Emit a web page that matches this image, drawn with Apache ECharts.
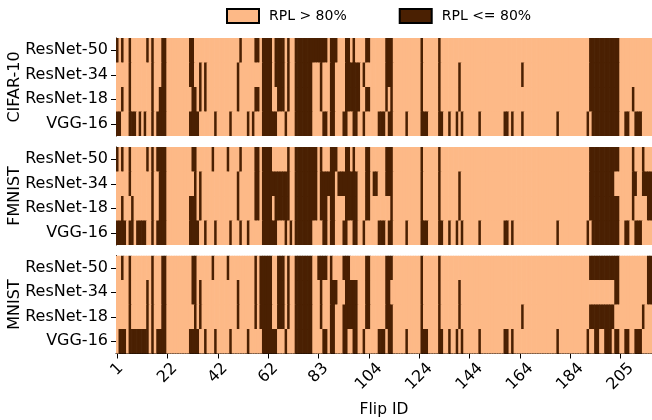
<!DOCTYPE html>
<html>
<head>
<meta charset="utf-8">
<script src="https://cdn.jsdelivr.net/npm/echarts@6/dist/echarts.min.js"></script>
<style>
html,body{margin:0;padding:0;background:#fff;}
#c{width:652px;height:420px;}
</style>
</head>
<body>
<div id="c"></div>
<script>
// ---- data ----
const N_FLIPS = 213;
const flipTickLabels = ['1','22','42','62','83','104','124','144','164','184','205'];
const flipTickStep = 20;
const models = ['ResNet-50','ResNet-34','ResNet-18','VGG-16'];
const datasets = ['CIFAR-10','FMNIST','MNIST'];
const legendNames = ['RPL > 80%','RPL <= 80%'];
// dark cells (RPL <= 80%) as column runs (0-based flip index), rows in model order
const cifar10Dark = [
  '0 2 5 12 14 18-19 29-30 49 55-56 58-61 63-66 68 71-83 85-87 91-92 94 99-100 107-109 121 128 188-199',
  '5 14 18-19 29-30 33 35 48 58-61 63-66 68 71-77 81 85-86 91-96 98 107-109 121 128 136 161 188-199',
  '2 5 14 17-19 30-31 33 35 48 55-56 58-61 64-66 68 71-77 81 85-86 91-96 99-100 107 109 121 128 136 188-199 205',
  '0-1 5-7 9 11 14 16-19 29-32 39 45 52 54 58-63 67 71-77 82-83 85-86 90-91 94-95 98 104-106 108-109 115 121-123 128-129 132 135 137 144 154-155 157 161 175 187 189-199 202-203 206-208'
];
const fmnistDark = [
  '0 2 5 12 14 16-19 30-31 38 44 49 55-56 58-61 68 71-79 81 85-87 91-92 94 99-100 107-109 121 128 188-199 205 209',
  '5 14 17-19 31 33 48 55-56 58-68 71-79 81-86 88-95 99-100 102-103 107-109 121 128 136 188-197 205-206 209-212',
  '2 6 14 17-19 29-31 33 48 55-56 58-61 63-68 71-79 81-83 85-86 91-95 99-100 109 121 128 136 188-199 205 211-212',
  '0-3 5-6 8-11 14 16-19 29-32 35 39 45 49 52 58-63 67 69 71-77 82-83 85-86 90-91 94-95 98 104-106 108-109 115 121-123 128-129 132 135 137 144 154-155 157 175 187 189-199 202-203 206-208'
];
const mnistDark = [
  '2 5 14 18-19 30-31 38 44 55 57-61 64-66 68 71-77 80-83 85 90-92 99-100 107-109 121 128 188-199 211-212',
  '5 12 14 18-19 30-31 33 48 55 57-61 64-66 68 71-77 81 85-87 91-95 99-100 107-108 121 128 136 198-199 211-212',
  '5 12 14 18-19 31 33 48 55 57-61 64-66 68 71-77 81 85-86 90-95 99-100 107-109 121 128 136 161 188-197 209',
  '1-3 5-12 14 16-19 29-32 35 39 45 52 58-63 67 71-77 82-83 85-86 90-91 94-95 98 104-106 108-109 115 121-123 128-129 132 135 137 144 154-155 157 175 187 190-191 194-196 198-199 202-203 206-208'
];
const allDark = [cifar10Dark, fmnistDark, mnistDark];

// ---- style ----
const LIGHT = '#FDB987';
const DARK = '#4A2002';
const FONT = 'DejaVu Sans';

function parseRuns(s){
  const set = new Set();
  s.trim().split(/\s+/).forEach(tok=>{
    const p = tok.split('-').map(Number);
    if(p.length===1) set.add(p[0]); else for(let i=p[0];i<=p[1];i++) set.add(i);
  });
  return set;
}
function buildData(rows){
  const out = [];
  rows.forEach((s, m)=>{
    const set = parseRuns(s);
    for(let c=0;c<N_FLIPS;c++) out.push([c, m, set.has(c)?1:0]);
  });
  return out;
}
function renderCell(params, api){
  const p = api.coord([api.value(0), api.value(1)]);
  const s = api.size([1, 1]);
  return {
    type:'rect',
    shape:{x:p[0]-s[0]/2, y:p[1]-s[1]/2, width:s[0]+0.7, height:s[1]+0.7},
    style:{fill: api.value(2) ? DARK : LIGHT}
  };
}

const xCats = Array.from({length:N_FLIPS},(_,i)=>String(i));
const tops = [38, 147, 255.5];
const H = 98;
const grids = [], xAxes = [], yAxes = [], series = [];
datasets.forEach((ds, d)=>{
  grids.push({left:116, width:536, top:tops[d], height:H, show:false,
    containLabel:false, outerBoundsMode:'none'});
  const last = d === datasets.length-1;
  xAxes.push({
    type:'category', gridIndex:d, data:xCats, show:last,
    axisLine:{show:true, lineStyle:{color:'#000', width:1}},
    axisTick:{show:true, alignWithLabel:true, length:5, lineStyle:{color:'#000'}, interval:(i)=>i%flipTickStep===0},
    axisLabel:{show:true, rotate:45, fontFamily:FONT, fontSize:16, color:'#000', margin:16,
      align:'center', verticalAlign:'middle',
      interval:(i)=>i%flipTickStep===0,
      formatter:(v,i)=>{
        const t = flipTickLabels[Math.round(i/flipTickStep)] || '';
        return '{l' + t.length + '|' + t + '}';
      },
      rich:{
        l1:{fontFamily:FONT, fontSize:16, color:'#000', padding:[0,0,0,0]},
        l2:{fontFamily:FONT, fontSize:16, color:'#000', padding:[5,5,0,0]},
        l3:{fontFamily:FONT, fontSize:16, color:'#000', padding:[10,10,0,0]}
      }},
    name: last ? 'Flip ID' : '', nameLocation:'middle', nameGap:48, nameMoveOverlap:false,
    nameTextStyle:{fontFamily:FONT, fontSize:15.5, color:'#000'},
    splitLine:{show:false}
  });
  yAxes.push({
    type:'category', gridIndex:d, data:models, inverse:true,
    axisLine:{show:true, lineStyle:{color:'#000', width:1}},
    axisTick:{show:true, alignWithLabel:true, length:5, lineStyle:{color:'#000'}},
    axisLabel:{fontFamily:FONT, fontSize:16, color:'#000', margin:8},
    name:ds, nameLocation:'middle', nameGap:93, nameMoveOverlap:false,
    nameTextStyle:{fontFamily:FONT, fontSize:16, color:'#000'},
    splitLine:{show:false}
  });
  series.push({
    type:'custom', xAxisIndex:d, yAxisIndex:d, data:buildData(allDark[d]),
    renderItem:renderCell, clip:true, silent:true, animation:false, z:1
  });
});
series.push({name:legendNames[0], type:'bar', xAxisIndex:0, yAxisIndex:0, data:[],
  itemStyle:{color:LIGHT, borderColor:'#000', borderWidth:1}});
series.push({name:legendNames[1], type:'bar', xAxisIndex:0, yAxisIndex:0, data:[],
  itemStyle:{color:DARK, borderColor:'#000', borderWidth:1}});

const chart = echarts.init(document.getElementById('c'), null, {renderer:'canvas'});
chart.setOption({
  animation:false,
  backgroundColor:'#fff',
  legend:{data:legendNames, top:3, left:221, itemWidth:32, itemHeight:14, itemGap:52,
    icon:'rect', textStyle:{fontFamily:FONT, fontSize:14, color:'#000', padding:[0,0,0,5]},
    selectedMode:false},
  grid:grids, xAxis:xAxes, yAxis:yAxes, series:series
});
</script>
</body>
</html>
